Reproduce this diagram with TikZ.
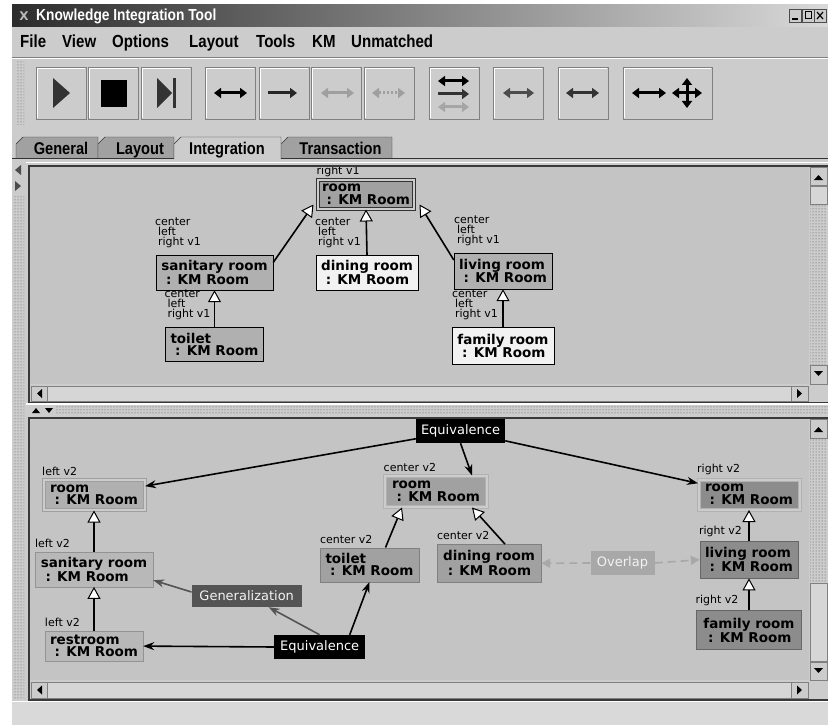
\documentclass[tikz,border=0pt]{standalone}
\usepackage{fontspec}
\setmainfont{DejaVu Sans}
\newfontfamily\guifont[FakeStretch=0.86]{Liberation Sans}
\usetikzlibrary{arrows.meta,positioning,patterns}
\definecolor{panel}{gray}{0.80}
\definecolor{canvas}{gray}{0.77}
\definecolor{track}{gray}{0.84}
\definecolor{tabgray}{gray}{0.63}
\definecolor{band}{gray}{0.80}
\definecolor{kmwhite}{gray}{0.95}
\definecolor{kmpale}{gray}{0.72}
\definecolor{kmgray}{gray}{0.69}
\definecolor{kmmid}{gray}{0.63}
\definecolor{kmdark}{gray}{0.55}
\definecolor{relgray}{gray}{0.33}
\definecolor{ovlgray}{gray}{0.66}

\begin{document}
\begin{tikzpicture}[x=1pt,y=-1pt]
	  \tikzstyle{concept}=[rectangle,draw=black,align=left,inner sep=0pt,text=black,font=\bfseries\fontsize{13.5}{12.5}\selectfont]
	  \tikzstyle{twin}=[double=band,double distance=2pt,line width=1pt]
	  \tikzstyle{tag}=[inner sep=0pt,align=left,font=\fontsize{11}{10}\selectfont]
	  \tikzstyle{relation}=[rectangle,fill=black,text=white,inner sep=0pt,font=\fontsize{13}{13}\selectfont]
	  \tikzstyle{isa}=[draw=black,line width=1.6pt,-{Triangle[length=12pt,width=13pt,fill=white,line width=1pt]}]
	  \tikzstyle{link}=[draw=black,line width=1.6pt,-{Stealth[length=11pt,width=8pt]}]
	  \tikzstyle{overlap}=[draw=ovlgray,line width=1.6pt,dash pattern=on 8pt off 5pt,-{Triangle[length=9pt,width=9pt]}]
	  \tikzstyle{btn}=[fill=panel,draw=gray]
	  \tikzstyle{tool}=[line width=3pt,{Triangle[length=7pt,width=10pt]}-{Triangle[length=7pt,width=10pt]}]
	  \tikzstyle{menu}=[anchor=base west,inner sep=0pt,font=\guifont\bfseries\fontsize{17.5}{17.5}\selectfont]
	  \tikzstyle{tabtext}=[anchor=base,inner sep=0pt,font=\guifont\bfseries\fontsize{17}{17}\selectfont]

	  \useasboundingbox (0,0) rectangle (828,725);
	  \fill[white] (0,0) rectangle (828,725);
	  \fill[panel] (12,5) rectangle (828,725);

	  \shade[left color=gray!35!black,right color=gray!30] (12,5) rectangle (828,27);
	  \node[text=gray!55,font=\bfseries\fontsize{12}{12}\selectfont] (logo) at (24,16) {X};
	  \node[anchor=base west,inner sep=0pt,text=white,font=\guifont\bfseries\fontsize{16}{16}\selectfont] (title) at (36,21) {Knowledge Integration Tool};
	  \foreach \x in {789,802,814}
	    \draw[fill=panel,draw=black!70] (\x,9) rectangle ++(12,13);
	  \draw[line width=1.5pt] (792,19) -- (798,19);
	  \draw[line width=1pt] (805,12) rectangle (811,19);
	  \draw[line width=1.2pt] (817,12) -- (823,19) (817,19) -- (823,12);

	  \foreach \w/\x in {File/20,View/62,Options/112,Layout/189,Tools/256,KM/312,Unmatched/351}
	    \node[menu] (menu\w) at (\x,48) {\w};

	  \draw[gray] (12,57.5) -- (828,57.5);
	  \draw[white] (12,58.5) -- (828,58.5);
	  \fill[pattern=dots,pattern color=gray!70!black] (17,61) rectangle (24,124);
	  \foreach \x in {36,88,141,205,259,311,364,429,493,558}{
	    \draw[btn] (\x,67) rectangle ++(50,52);
	    \draw[white] ({\x+1},118) -- ({\x+1},68) -- ({\x+49},68);
	  }
	  \draw[btn] (623,67) rectangle (712,119);
	  \draw[white] (624,118) -- (624,68) -- (711,68);

	  \fill[black!80] (53,78) -- (70,93) -- (53,108) -- cycle;
	  \fill[black] (101,80) rectangle (127,107);
	  \fill[black!80] (157,78) -- (172,93) -- (157,108) -- cycle;
	  \fill[black!80] (173,78) rectangle (176,108);
	  \draw[tool,black] (214,93) -- (247,93);
	  \draw[line width=3pt,gray!30!black,-{Triangle[length=7pt,width=10pt]}] (268,93) -- (297,93);
	  \draw[tool,gray!75] (321,93) -- (354,93);
	  \draw[tool,gray!75,dash pattern=on 2pt off 2pt] (372,93) -- (405,93);
	  \draw[tool,black] (438,81) -- (469,81);
	  \draw[line width=3pt,gray!40!black,-{Triangle[length=7pt,width=10pt]}] (438,94) -- (469,94);
	  \draw[tool,gray!70] (438,107) -- (469,107);
	  \draw[tool,gray!60!black] (503,93) -- (534,93);
	  \draw[tool,gray!40!black] (566,93) -- (599,93);
	  \draw[tool,black] (632,93) -- (666,93);
	  \draw[tool,black] (672,93) -- (702,93);
	  \draw[tool,black] (687,78) -- (687,108);

	  \foreach \a/\b/\t in {16/98/General,98/174/Layout,281/392/Transaction}{
	    \draw[fill=tabgray,draw=gray!40!black] (\a,158) -- (\a,144) -- ({\a+7},137) -- (\b,137) -- (\b,158);
	    \node[tabtext] (tab\t) at ({(\a+\b)/2+4},154) {\t};
	  }
	  \draw[fill=panel,draw=gray!40!black] (174,159) -- (174,144) -- (181,137) -- (281,137) -- (281,159);
	  \node[tabtext] (tabIntegration) at (227,154) {Integration};
	  \draw[gray!40!black] (12,158.5) -- (174,158.5) (281,158.5) -- (828,158.5);

	  \fill[pattern=dots,pattern color=gray!70!black] (13,195) rectangle (24,698);
	  \fill[black!70] (21,165) -- (15,170) -- (21,175) -- cycle;
	  \fill[black!70] (15,181) -- (21,186) -- (15,191) -- cycle;

	  \draw[white] (26,162.5) -- (828,162.5);
	  \draw[gray!45!black,line width=2pt] (29,166) rectangle (830,403);
	  \fill[canvas] (30,167) rectangle (809,384);
	  \draw[btn] (810,167) rectangle (827,185);
	  \fill (814,180) -- (823,180) -- (818.5,175) -- cycle;
	  \draw[btn,fill=track] (810,186) rectangle (827,204);
	  \fill[pattern=dots,pattern color=gray!60!black] (810,205) rectangle (827,364);
	  \draw[btn] (810,365) rectangle (827,384);
	  \fill (814,371) -- (823,371) -- (818.5,376) -- cycle;
	  \draw[btn] (31,386) rectangle (47,401);
	  \fill (37,393.5) -- (42,389) -- (42,398) -- cycle;
	  \draw[btn,fill=track] (47,386) rectangle (791,401);
	  \draw[btn] (791,386) rectangle (808,401);
	  \fill (802,393.5) -- (797,389) -- (797,398) -- cycle;
	  \fill[panel] (809,385) rectangle (828,402);

	  \fill[white] (26,403) rectangle (828,405);
	  \fill[pattern=dots,pattern color=gray!60!black] (56,406) rectangle (828,413);
	  \fill (32,413) -- (40,413) -- (36,408) -- cycle;
	  \fill (45,408) -- (53,408) -- (49,413) -- cycle;

	  \draw[gray!45!black,line width=2pt] (29,418) rectangle (830,700);
	  \fill[canvas] (30,419) rectangle (809,680);
	  \draw[btn] (810,419) rectangle (827,438);
	  \fill (814,432) -- (823,432) -- (818.5,427) -- cycle;
	  \fill[pattern=dots,pattern color=gray!60!black] (810,439) rectangle (827,583);
	  \draw[btn,fill=track] (810,583) rectangle (827,661);
	  \draw[btn] (810,662) rectangle (827,680);
	  \fill (814,668) -- (823,668) -- (818.5,673) -- cycle;
	  \draw[btn] (31,682) rectangle (47,698);
	  \fill (37,690) -- (42,685.5) -- (42,694.5) -- cycle;
	  \draw[btn,fill=track] (47,682) rectangle (791,698);
	  \draw[btn] (791,682) rectangle (808,698);
	  \fill (802,690) -- (797,685.5) -- (797,694.5) -- cycle;
	  \fill[panel] (809,681) rectangle (828,699);
	  \fill[gray!30] (12,702) rectangle (828,725);
	  \draw[white] (12,701.5) -- (828,701.5);

	  \begin{scope}
	  \clip (30,167) rectangle (809,384);
	  \node[concept,twin,draw=black!80,fill=kmmid,minimum width=96pt,minimum height=29pt] (room1) at (366,194.5) {room\\\ : KM Room};
	  \node[concept,fill=kmgray,minimum width=117pt,minimum height=35pt] (sanitary1) at (214.5,272.5) {sanitary room\\\ : KM Room};
	  \node[concept,fill=kmwhite,minimum width=102pt,minimum height=35pt] (dining1) at (367,272.5) {dining room\\\ : KM Room};
	  \node[concept,fill=kmgray,minimum width=98pt,minimum height=36pt] (living1) at (503,271) {living room\\\ : KM Room};
	  \node[concept,fill=kmgray,minimum width=98pt,minimum height=34pt] (toilet1) [below=37pt of sanitary1] {toilet\\\ : KM Room};
	  \node[concept,fill=kmwhite,minimum width=102pt,minimum height=37pt] (family1) [below=38pt of living1] {family room\\\ : KM Room};

	  \node[tag] (room1tag) [above right=3pt and -1pt of room1.north west] {right v1};
	  \node[tag] (sanitary1tag) [above right=7pt and -1pt of sanitary1.north west] {center\\\hspace{3pt}left\\\hspace{3pt}right v1};
	  \node[tag] (dining1tag) [above right=7pt and -1pt of dining1.north west] {center\\\hspace{3pt}left\\\hspace{3pt}right v1};
	  \node[tag] (living1tag) [above right=7pt and 0pt of living1.north west] {center\\\hspace{3pt}left\\\hspace{3pt}right v1};
	  \node[tag] (toilet1tag) [above right=7pt and -1pt of toilet1.north west] {center\\\hspace{3pt}left\\\hspace{3pt}right v1};
	  \node[tag] (family1tag) [above right=7pt and 0pt of family1.north west] {center\\\hspace{3pt}left\\\hspace{3pt}right v1};

	  \path ([yshift=10pt]sanitary1.east) edge[isa] ([xshift=-4pt,yshift=-10pt]room1.west)
	  (dining1.north) edge[isa] (room1.south)
	  ([yshift=11pt]living1.west) edge[isa] ([xshift=5pt,yshift=-10pt]room1.east)
	  (toilet1.north) edge[isa] (sanitary1.south)
	  (family1.north) edge[isa] (living1.south);
	  \end{scope}

	  \node[concept,twin,draw=gray!75,fill=kmgray,minimum width=101pt,minimum height=30pt] (room2l) at (94,495) {room\\\ : KM Room};
	  \node[concept,draw=gray!85,fill=kmpale,minimum width=118pt,minimum height=35pt] (sanitary2) [below=41pt of room2l] {sanitary room\\\ : KM Room};
	  \node[concept,draw=gray!85,fill=kmpale,minimum width=98pt,minimum height=30pt] (restroom2) [below=44pt of sanitary2] {restroom\\\ : KM Room};
	  \node[concept,twin,draw=gray!60,fill=kmmid,minimum width=102pt,minimum height=31pt] (room2c) at (436,491.5) {room\\\ : KM Room};
	  \node[concept,draw=gray,fill=kmmid,minimum width=99pt,minimum height=34pt] (toilet2) at (369.5,564.7) {toilet\\\ : KM Room};
	  \node[concept,draw=gray,fill=kmmid,minimum width=104pt,minimum height=38pt] (dining2) at (489,563.3) {dining room\\[1.5pt]\ : KM Room};
	  \node[concept,twin,draw=gray!60,fill=kmdark,minimum width=101pt,minimum height=30pt] (room2r) at (749,494.5) {room\\\ : KM Room};
	  \node[concept,draw=gray!80!black,fill=kmdark,minimum width=98pt,minimum height=37pt] (living2) [below=31pt of room2r] {living room\\\ : KM Room};
	  \node[concept,draw=gray!80!black,fill=kmdark,minimum width=105pt,minimum height=39pt] (family2) [below=32pt of living2] {family room\\\ : KM Room};

	  \node[tag] (room2ltag) [above right=4pt and -1pt of room2l.north west] {left v2};
	  \node[tag] (sanitary2tag) [above right=4pt and 0pt of sanitary2.north west] {left v2};
	  \node[tag] (restroom2tag) [above right=4pt and 0pt of restroom2.north west] {left v2};
	  \node[tag] (room2ctag) [above right=4pt and -1pt of room2c.north west] {center v2};
	  \node[tag] (toilet2tag) [above right=4pt and 0pt of toilet2.north west] {center v2};
	  \node[tag] (dining2tag) [above right=4pt and 0pt of dining2.north west] {center v2};
	  \node[tag] (room2rtag) [above right=4pt and -1pt of room2r.north west] {right v2};
	  \node[tag] (living2tag) [above right=4pt and -1pt of living2.north west] {right v2};
	  \node[tag] (family2tag) [above right=4pt and -1pt of family2.north west] {right v2};

	  \node[relation,minimum width=89pt,minimum height=24pt] (equivtop) at (460.5,431) {Equivalence};
	  \node[relation,fill=relgray,text=gray!10,minimum width=110pt,minimum height=22pt] (general) at (246.7,596) {Generalization};
	  \node[relation,minimum width=91pt,minimum height=24pt] (equivbot) at (319.7,647) {Equivalence};
	  \node[relation,fill=ovlgray,text=gray!10,minimum width=64pt,minimum height=24pt] (overlap) at (622.5,563) {Overlap};

	  \path (equivtop) edge[link] (room2l)
	  (equivtop) edge[link] (room2r)
	  (equivtop.south) edge[link] ([xshift=36pt]room2c.north)
	  (sanitary2.north) edge[isa] (room2l.south)
	  (restroom2.north) edge[isa] (sanitary2.south)
	  ([xshift=16pt]toilet2.north) edge[isa] ([xshift=-34pt]room2c.south)
	  ([xshift=16pt]dining2.north) edge[isa] ([xshift=36pt]room2c.south)
	  (living2.north) edge[isa] (room2r.south)
	  (family2.north) edge[isa] (living2.south)
	  ([yshift=4pt]general.west) edge[link,draw=relgray] ([yshift=-11pt]sanitary2.east)
	  (equivbot.north) edge[link,draw=relgray] ([xshift=22pt]general.south)
	  (equivbot.west) edge[link] (restroom2.east)
	  ([xshift=30pt]equivbot.north) edge[link] (toilet2.south)
	  (overlap.west) edge[overlap] (dining2.east)
	  (overlap.east) edge[overlap] (living2.west);
	\end{tikzpicture}
\end{document}
